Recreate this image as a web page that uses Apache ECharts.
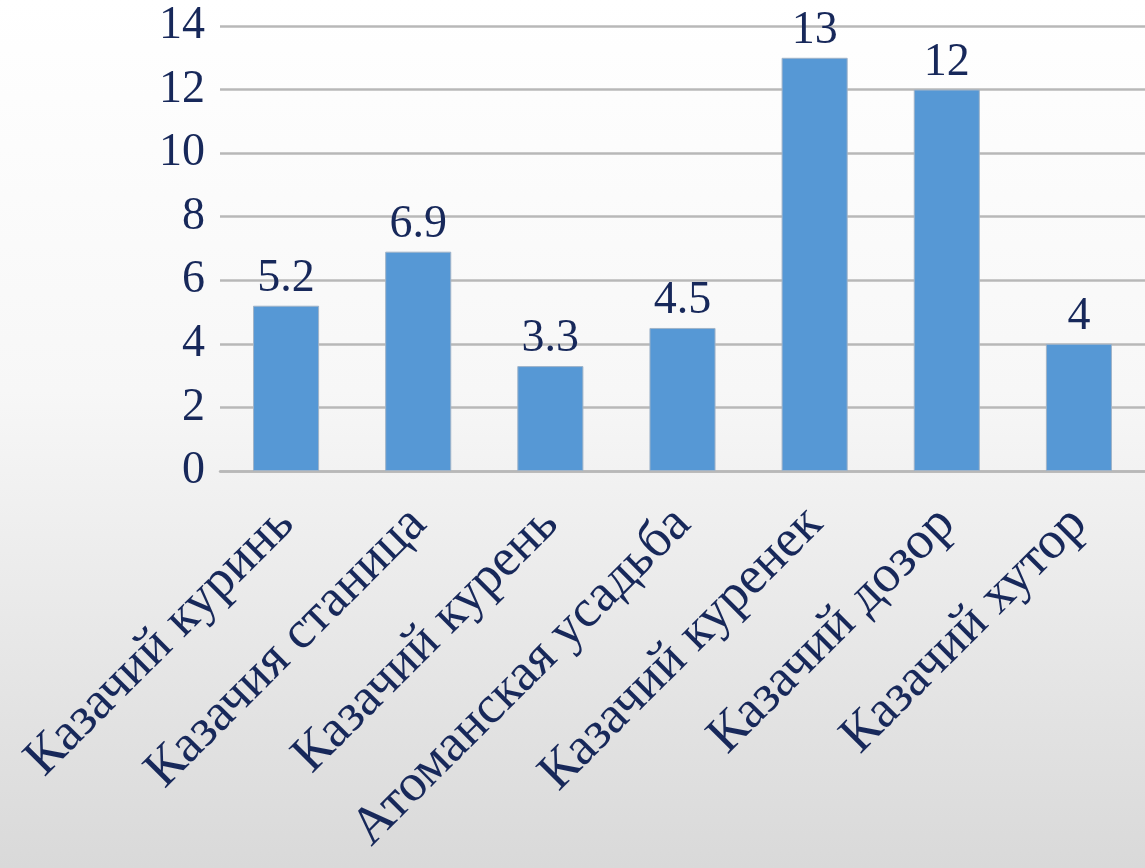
<!DOCTYPE html>
<html>
<head>
<meta charset="utf-8">
<script src="https://cdn.jsdelivr.net/npm/echarts@6/dist/echarts.min.js"></script>
<style>
html,body{margin:0;padding:0;}
#chart{width:1145px;height:868px;}
</style>
</head>
<body>
<div id="chart"></div>
<script>
const categories = ["Казачий куринь", "Казачия станица", "Казачий курень", "Атоманская усадьба", "Казачий куренек", "Казачий дозор", "Казачий хутор"];
const values = [5.2, 6.9, 3.3, 4.5, 13, 12, 4];
const yTicks = [0, 2, 4, 6, 8, 10, 12, 14];

const textColor = '#17285A';
const font = '"Liberation Serif", "DejaVu Serif", serif';
const chart = echarts.init(document.getElementById('chart'));
chart.setOption({
  animation: false,
  backgroundColor: {
    type: 'linear', x: 0, y: 0, x2: 0, y2: 1,
    colorStops: [
      { offset: 0, color: '#FFFFFF' },
      { offset: 0.45, color: '#F7F7F7' },
      { offset: 1, color: '#D9D9D9' }
    ]
  },
  grid: { left: 220, top: 26, width: 929, height: 445, containLabel: false },
  xAxis: {
    type: 'category',
    data: categories,
    axisLine: { show: true, lineStyle: { color: '#B8B8B8', width: 2.5 } },
    axisTick: { show: false },
    axisLabel: {
      rotate: 45, interval: 0, margin: 45,
      color: textColor, fontFamily: font, fontSize: 53
    }
  },
  yAxis: {
    type: 'value',
    min: yTicks[0], max: yTicks[yTicks.length - 1], interval: 2,
    axisLine: { show: false },
    axisTick: { show: false },
    splitLine: { lineStyle: { color: '#B8B8B8', width: 2.5 } },
    axisLabel: { color: textColor, fontFamily: font, fontSize: 46, margin: 15 }
  },
  series: [{
    type: 'bar',
    data: values,
    barWidth: '50%',
    itemStyle: { color: '#5698D5', borderColor: '#9FB3C8', borderWidth: 1 },
    label: {
      show: true, position: 'top', distance: 4,
      color: textColor, fontFamily: font, fontSize: 46
    }
  }]
});
</script>
</body>
</html>
